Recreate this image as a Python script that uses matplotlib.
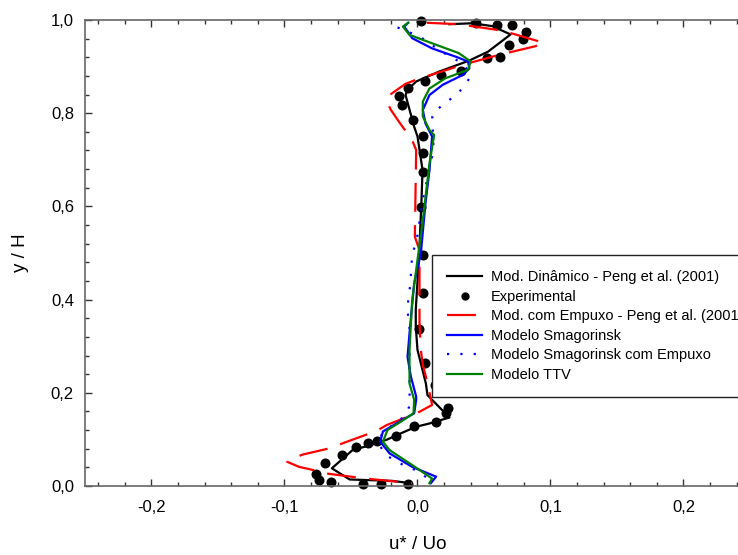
import matplotlib
matplotlib.use("Agg")
import matplotlib.pyplot as plt
from matplotlib.ticker import MultipleLocator, FuncFormatter

plt.rcParams['font.family'] = ['Liberation Sans', 'DejaVu Sans']

# Mod. Dinamico - Peng et al. (2001)
dyn_u = [0.024, 0.041, 0.056, 0.070, 0.053, 0.039, 0.016, -0.001, -0.0075, -0.009, -0.0025, 0.000,
         0.0038, 0.003, 0.0013, -0.0013, -0.0013, 0.000, 0.0063, 0.0075, 0.024, 0.0088, -0.0013,
         -0.0125, -0.0226, -0.035, -0.0489, -0.056, -0.0644, -0.051, -0.019, -0.005]
dyn_y = [0.991, 0.993, 0.987, 0.969, 0.932, 0.913, 0.889, 0.868, 0.850, 0.839, 0.771, 0.750,
         0.678, 0.614, 0.500, 0.378, 0.342, 0.292, 0.220, 0.195, 0.147, 0.134, 0.127,
         0.113, 0.100, 0.088, 0.077, 0.059, 0.038, 0.014, 0.011, 0.006]

# Experimental
exp_u = [0.0025, 0.044, 0.060, 0.071, 0.0817, 0.0795, 0.069, 0.062, 0.052, 0.033, 0.0175, 0.006,
         -0.0073, -0.0138, -0.0113, -0.0032, 0.0045, 0.0038, 0.0038, 0.0025, 0.0038, 0.0038, 0.0013,
         0.0058, 0.0128, 0.0226, 0.0213, 0.0138, -0.003, -0.0163, -0.0308, -0.037, -0.0464, -0.0564,
         -0.0694, -0.0764, -0.0744, -0.065, -0.041, -0.0276, -0.0068]
exp_y = [0.998, 0.994, 0.989, 0.989, 0.975, 0.959, 0.947, 0.921, 0.919, 0.891, 0.881, 0.870,
         0.854, 0.837, 0.818, 0.785, 0.752, 0.714, 0.674, 0.598, 0.496, 0.415, 0.337,
         0.265, 0.217, 0.167, 0.156, 0.138, 0.129, 0.107, 0.097, 0.092, 0.084, 0.067,
         0.049, 0.025, 0.013, 0.008, 0.005, 0.005, 0.005]

# Mod. com Empuxo - Peng et al. (2001)
emp_u = [0.007, 0.031, 0.064, 0.095, 0.089, 0.061, 0.033, 0.000, -0.009, -0.021, -0.023, -0.020,
         -0.014, -0.004, -0.001, -0.002, 0.0015, 0.0015, 0.0025, 0.004, 0.007, 0.011, 0.000,
         -0.023, -0.031, -0.055, -0.066, -0.087, -0.098, -0.089, -0.081, -0.069, -0.039, -0.004]
emp_y = [0.994, 0.991, 0.977, 0.951, 0.944, 0.925, 0.903, 0.873, 0.863, 0.839, 0.825, 0.807,
         0.782, 0.742, 0.721, 0.535, 0.506, 0.350, 0.292, 0.260, 0.227, 0.174, 0.157,
         0.131, 0.118, 0.093, 0.081, 0.067, 0.052, 0.041, 0.036, 0.027, 0.016, 0.006]

# Modelo Smagorinsk
smag_u = [-0.007, -0.010, -0.004, 0.011, 0.029, 0.038, 0.039, 0.034, 0.019, 0.009, 0.004, 0.006,
          0.011, 0.009, 0.006, 0.0025, -0.0025, -0.006, -0.0075, -0.005, -0.001, -0.001, -0.0025,
          -0.016, -0.026, -0.028, -0.021, -0.004, 0.014, 0.010]
smag_y = [0.994, 0.986, 0.961, 0.939, 0.921, 0.911, 0.896, 0.882, 0.861, 0.839, 0.807, 0.778,
          0.750, 0.678, 0.607, 0.499, 0.435, 0.328, 0.277, 0.235, 0.192, 0.185, 0.156,
          0.134, 0.117, 0.095, 0.070, 0.041, 0.020, 0.006]

# Modelo Smagorinsk com Empuxo
smage_u = [-0.015, 0.002, 0.0175, 0.035, 0.040, 0.035, 0.027, 0.019, 0.011, 0.012, 0.011, 0.009,
           0.004, -0.001, -0.004, -0.0045, -0.0055, -0.0075, -0.007, -0.006, -0.006, -0.006,
           -0.006, -0.0055, -0.010, -0.019, -0.027, -0.029, -0.024, -0.015, -0.0075, 0.0013, 0.008]
smage_y = [0.984, 0.964, 0.933, 0.905, 0.880, 0.856, 0.835, 0.818, 0.798, 0.730, 0.707, 0.682,
           0.614, 0.521, 0.499, 0.474, 0.431, 0.385, 0.360, 0.338, 0.292, 0.224,
           0.199, 0.174, 0.149, 0.130, 0.110, 0.090, 0.067, 0.051, 0.041, 0.031, 0.015]

# Modelo TTV
ttv_u = [-0.007, -0.011, -0.006, 0.011, 0.031, 0.040, 0.038, 0.021, 0.009, 0.004, 0.004, 0.009,
         0.0125, 0.009, 0.004, 0.000, -0.004, -0.006, -0.006, -0.0025, -0.003, -0.0125, -0.0226,
         -0.026, -0.021, -0.004, 0.011, 0.009]
ttv_y = [0.994, 0.986, 0.968, 0.950, 0.929, 0.911, 0.893, 0.875, 0.853, 0.825, 0.793, 0.764,
         0.753, 0.692, 0.571, 0.485, 0.399, 0.292, 0.220, 0.185, 0.156, 0.138, 0.120,
         0.095, 0.077, 0.045, 0.016, 0.006]


def comma(v, pos):
    return f"{round(v, 2) + 0.0:.1f}".replace('.', ',')


fig = plt.figure(figsize=(7.38, 5.55), dpi=100)
ax = fig.add_axes([85 / 738, 69 / 555, 665 / 738, 466 / 555])

lw = 1.6
ax.plot(dyn_u, dyn_y, color='black', lw=lw, label='Mod. Dinâmico - Peng et al. (2001)')
ax.plot(exp_u, exp_y, 'o', color='black', ms=6.2, label='Experimental', clip_on=False)
ax.plot(emp_u, emp_y, color='red', lw=lw, dashes=(13, 6), label='Mod. com Empuxo - Peng et al. (2001)')
ax.plot(smag_u, smag_y, color='blue', lw=lw, label='Modelo Smagorinsk')
ax.plot(smage_u, smage_y, color='blue', lw=lw, dashes=(1, 5), label='Modelo Smagorinsk com Empuxo')
ax.plot(ttv_u, ttv_y, color='green', lw=lw, label='Modelo TTV')

ax.set_xlim(-0.25, 0.25)
ax.set_ylim(0, 1)
ax.xaxis.set_major_locator(MultipleLocator(0.1))
ax.xaxis.set_minor_locator(MultipleLocator(0.02))
ax.yaxis.set_major_locator(MultipleLocator(0.2))
ax.yaxis.set_minor_locator(MultipleLocator(0.04))
ax.xaxis.set_major_formatter(FuncFormatter(comma))
ax.yaxis.set_major_formatter(FuncFormatter(comma))
ax.tick_params(which='both', direction='in', top=True, right=True, colors='#333333', labelcolor='black',
               labelsize=12)
ax.tick_params(which='major', length=5, width=1)
ax.tick_params(which='minor', length=3, width=1)
ax.tick_params(axis='x', pad=10)
ax.tick_params(axis='y', pad=8)
for s in ax.spines.values():
    s.set_color('#666666')
    s.set_linewidth(1.2)

ax.set_xlabel('u* / Uo', fontsize=13.5, labelpad=15)
ax.set_ylabel('y / H', fontsize=13.5, labelpad=16)

leg = ax.legend(loc='upper left', bbox_to_anchor=(432 / 738, 1 - 255 / 555), bbox_transform=fig.transFigure,
                fontsize=10.5, frameon=True, fancybox=False, edgecolor='#222222', framealpha=1,
                handlelength=2.4, handletextpad=0.6, labelspacing=0.38, borderpad=1.05, borderaxespad=0,
                numpoints=1, markerscale=0.8)
leg.get_frame().set_linewidth(1.0)

fig.savefig('out.png', dpi=100)
